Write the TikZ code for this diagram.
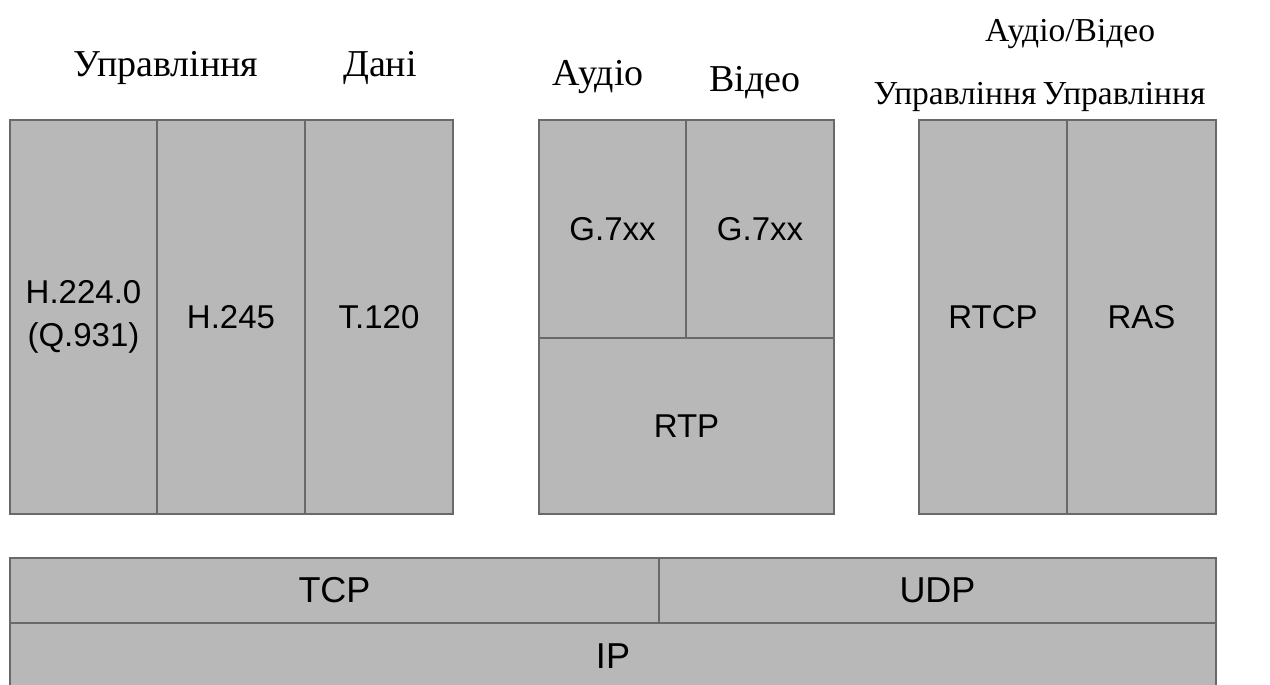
\documentclass[tikz,border=0pt]{standalone}
\usepackage{fontspec}
\setmainfont{Liberation Serif}
\setsansfont{Liberation Sans}
\definecolor{h323-grey}{RGB}{184,184,184}
\definecolor{h323-line}{RGB}{105,105,105}

\begin{document}
\begin{tikzpicture}[x=1pt,y=-1pt,
  layer/.style={draw=h323-line, fill=h323-grey, line width=1.3pt, inner sep=0pt, align=center,
    font=\sffamily\fontsize{33}{43}\selectfont},
  head/.style={anchor=base, inner sep=0pt, font=\fontsize{38}{42}\selectfont},
  headsmall/.style={head, font=\fontsize{33.5}{38}\selectfont}]
\useasboundingbox (0,0) rectangle (1270,685);
%Ueberschriften:
\node[head] (hctrl) at (166,77) {Управління};
\node[head] (hdata) at (380,77) {Дані};
\node[head] (haudio) at (598,86) {Аудіо};
\node[head] (hvideo) at (755,92) {Відео};
\node[headsmall] (hav) at (1070,42) {Аудіо/Відео};
\node[headsmall] (hctrla) at (955,105) {Управління};
\node[headsmall] (hctrlb) at (1124,105) {Управління};
%Steuerung und Daten:
\node[layer, minimum width=147, minimum height=394] (h224) at (83.5,317) {H.224.0\\(Q.931)};
\node[layer, minimum width=148, minimum height=394] (h245) at (231,317) {H.245};
\node[layer, minimum width=148, minimum height=394] (t120) at (379,317) {T.120};
%Audio und Video:
\node[layer, minimum width=147, minimum height=218] (g7a) at (612.5,229) {G.7xx};
\node[layer, minimum width=148, minimum height=218] (g7v) at (760,229) {G.7xx};
\node[layer, minimum width=295, minimum height=176] (rtp) at (686.5,426) {RTP};
%Steuerung A/V:
\node[layer, minimum width=148, minimum height=394] (rtcp) at (993,317) {RTCP};
\node[layer, minimum width=149, minimum height=394] (ras) at (1141.5,317) {RAS};
%Transport:
\node[layer, font=\sffamily\fontsize{36}{40}\selectfont, minimum width=649, minimum height=65] (tcp) at (334.5,590.5) {TCP};
\node[layer, font=\sffamily\fontsize{36}{40}\selectfont, minimum width=557, minimum height=65] (udp) at (937.5,590.5) {UDP};
\node[layer, font=\sffamily\fontsize{36}{40}\selectfont, minimum width=1206, minimum height=66] (ip) at (613,656) {IP};
\end{tikzpicture}
\end{document}
